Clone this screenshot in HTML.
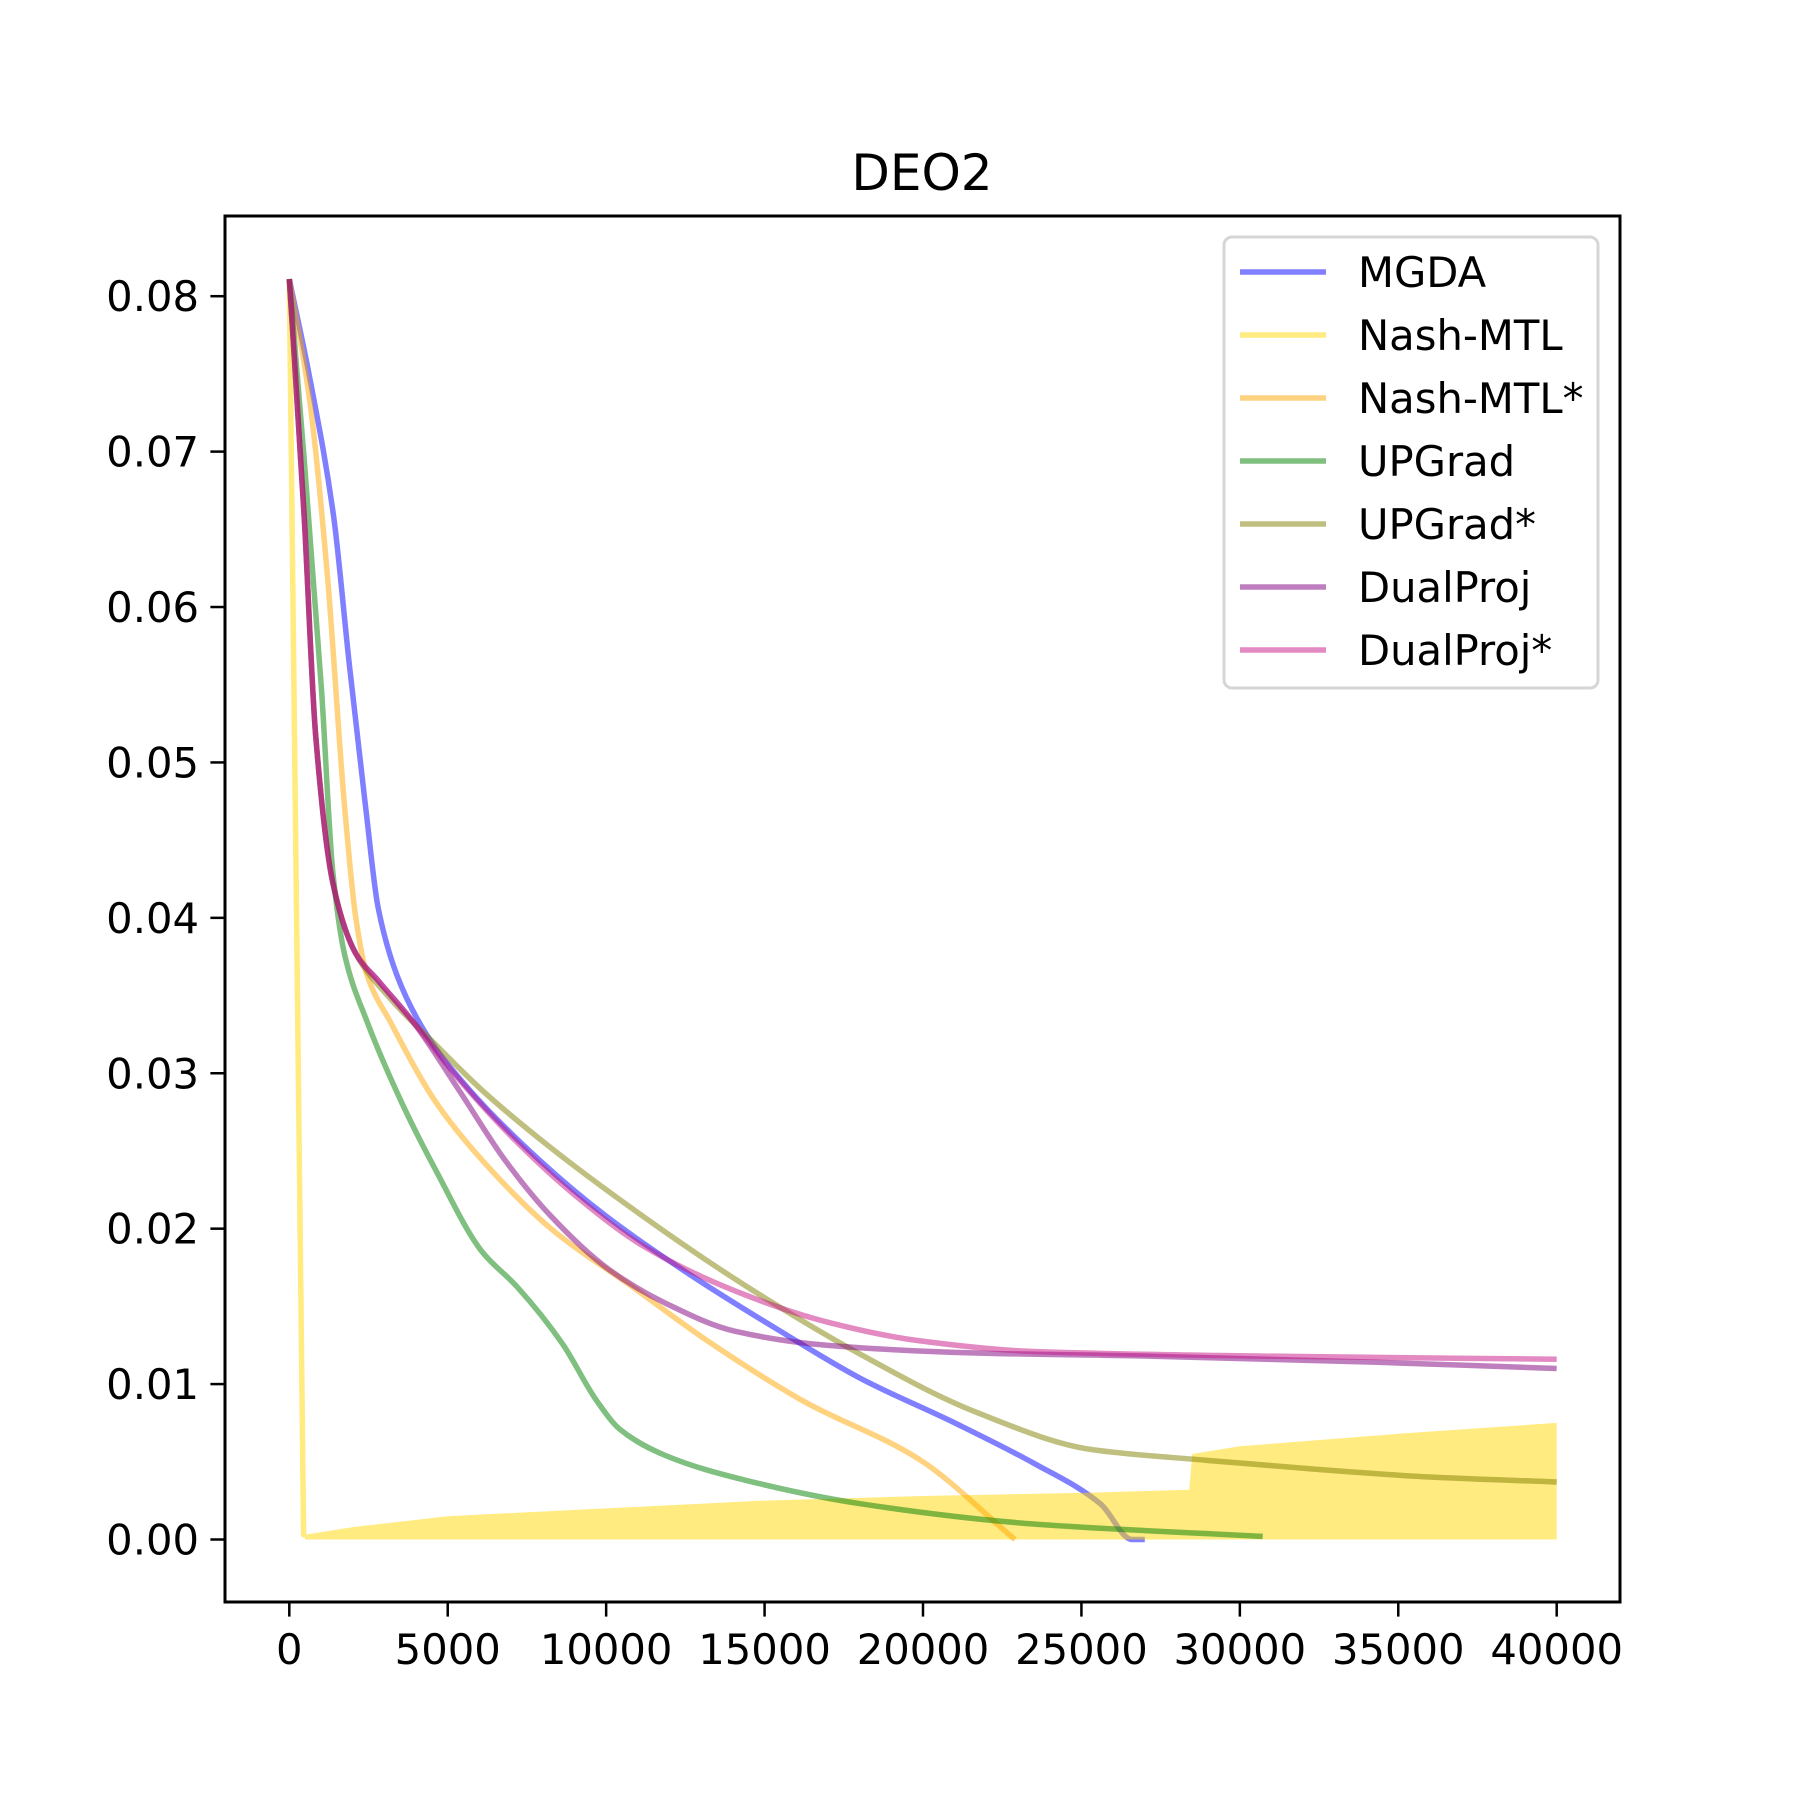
<!DOCTYPE html>
<html><head><meta charset="utf-8"><style>
html,body{margin:0;padding:0;background:#fff}
svg{display:block;font-family:"DejaVu Sans","Liberation Sans",sans-serif}
</style></head><body>
<svg id="chart" width="1800" height="1800" viewBox="0 0 1800 1800" xmlns="http://www.w3.org/2000/svg">
<rect width="1800" height="1800" fill="#fff"/>
<text x="922" y="190" font-size="50" text-anchor="middle">DEO2</text>
<g id="plot"></g>
<g id="axes"></g>
<g id="legend"></g>
</svg>
<script>
const xTicks=[0,5000,10000,15000,20000,25000,30000,35000,40000];
const yTicks=[0,0.01,0.02,0.03,0.04,0.05,0.06,0.07,0.08];
const yTickLabels=["0.00","0.01","0.02","0.03","0.04","0.05","0.06","0.07","0.08"];
const mgdaX=[0,650,1400,1900,2400,2800,3400,4300,5700,7900,10000,12600,15500,18000,21000,23500,25600,26600,27000];
const mgdaY=[0.0811,0.0747,0.0658,0.0562,0.0473,0.0407,0.0363,0.0326,0.0289,0.0244,0.0208,0.0171,0.0134,0.0104,0.0075,0.0049,0.0023,0.0,0.0];
const nashX=[0,450,500];
const nashY=[0.0811,0.0003,0.0003];
const nashBandX=[500,2000,5000,10000,15000,20000,25000,28400,28500,30000,35000,40000];
const nashBandTop=[0.0003,0.0008,0.0015,0.0020,0.0025,0.0028,0.0030,0.0032,0.0055,0.0060,0.0068,0.0075];
const nashStarX=[0,650,1200,1740,2100,2460,3190,4640,6090,8260,10800,13330,16230,19850,22900];
const nashStarY=[0.0811,0.0732,0.0621,0.0473,0.0400,0.0363,0.0333,0.0281,0.0244,0.0200,0.0163,0.0126,0.0089,0.0052,0.0];
const upX=[0,470,1015,1377,1740,2460,3550,4640,6090,7170,8620,9710,10430,11880,14420,18040,23480,30720];
const upY=[0.0811,0.0695,0.0547,0.0429,0.0377,0.0333,0.0281,0.0237,0.0185,0.0163,0.0126,0.0089,0.0071,0.0054,0.0038,0.0023,0.0010,0.0002];
const upStarX=[0,470,830,1380,2100,3190,4640,6090,8260,11160,14420,18040,21670,25290,28910,32540,36160,40000];
const upStarY=[0.0811,0.0658,0.0518,0.0422,0.0377,0.0348,0.0318,0.0289,0.0252,0.0208,0.0163,0.0119,0.0082,0.0058,0.0051,0.0045,0.0040,0.0037];
const dpX=[0,470,830,1380,2100,2830,3910,5360,6810,8260,10070,11880,14060,16960,21670,27100,34350,40000];
const dpY=[0.0811,0.0658,0.0518,0.0422,0.0377,0.0359,0.0333,0.0289,0.0244,0.0208,0.0174,0.0152,0.0134,0.0125,0.0120,0.0118,0.0114,0.0110];
const dpStarX=[0,470,830,1380,2100,2830,3910,5360,7170,8990,11160,14060,16960,19850,23480,30720,40000];
const dpStarY=[0.0811,0.0658,0.0518,0.0422,0.0377,0.0359,0.0333,0.0296,0.0256,0.0222,0.0189,0.0160,0.0140,0.0128,0.0121,0.0118,0.0116];

const L=225,R=1620,T=216,B=1602;
function sx(v){return 289.3+(v-0)*(1556.7-289.3)/40000;}
function sy(v){return 1539.5-v*(1539.5-296.2)/0.08;}
const NS="http://www.w3.org/2000/svg";
const plot=document.getElementById('plot'),axes=document.getElementById('axes'),leg=document.getElementById('legend');
function mk(tag,attrs,parent){const e=document.createElementNS(NS,tag);for(const k in attrs)e.setAttribute(k,attrs[k]);parent.appendChild(e);return e;}

const defs=mk('defs',{},plot);
const cp=mk('clipPath',{id:'clip'},defs);
mk('rect',{x:L,y:T,width:R-L,height:B-T},cp);
const g=mk('g',{'clip-path':'url(#clip)'},plot);

// monotone cubic (Fritsch-Carlson) in pixel space
function smoothPath(xs,ys){
  const px=xs.map(sx),py=ys.map(sy),n=px.length;
  const dl=[],m=new Array(n);
  for(let i=0;i<n-1;i++)dl.push((py[i+1]-py[i])/(px[i+1]-px[i]));
  m[0]=dl[0];m[n-1]=dl[n-2];
  for(let i=1;i<n-1;i++){
    if(dl[i-1]*dl[i]<=0)m[i]=0;
    else{const w1=2*(px[i+1]-px[i])+(px[i]-px[i-1]),w2=(px[i+1]-px[i])+2*(px[i]-px[i-1]);m[i]=(w1+w2)/(w1/dl[i-1]+w2/dl[i]);}
  }
  let d='M'+px[0].toFixed(1)+','+py[0].toFixed(1);
  for(let i=0;i<n-1;i++){
    const h=(px[i+1]-px[i])/3;
    d+=' C'+(px[i]+h).toFixed(1)+','+(py[i]+m[i]*h).toFixed(1)+' '+(px[i+1]-h).toFixed(1)+','+(py[i+1]-m[i+1]*h).toFixed(1)+' '+px[i+1].toFixed(1)+','+py[i+1].toFixed(1);
  }
  return d;
}
function line(xs,ys,color,name,smooth){
  const d=smooth?smoothPath(xs,ys):xs.map((x,i)=>(i?'L':'M')+sx(x).toFixed(1)+','+sy(ys[i]).toFixed(1)).join(' ');
  const p=mk('path',{d:d,fill:'none',stroke:color,'stroke-opacity':0.5,'stroke-width':5.5,'stroke-linejoin':'round','stroke-linecap':'butt'},g);
  
  
}
line(mgdaX,mgdaY,'#0000ff','mgda-line',true);
let d='M'+sx(nashBandX[0])+','+sy(0);
nashBandX.forEach((x,i)=>{d+=' L'+sx(x).toFixed(1)+','+sy(nashBandTop[i]).toFixed(1);});
d+=' L'+sx(nashBandX[nashBandX.length-1])+','+sy(0)+' Z';
const band=mk('path',{d:d,fill:'#ffd700','fill-opacity':0.5,stroke:'none'},g);


line(nashX,nashY,'#ffd700','nash-mtl-line',false);
line(nashStarX,nashStarY,'#ffa500','nash-mtl-star-line',true);
line(upX,upY,'#008000','upgrad-line',true);
line(upStarX,upStarY,'#808000','upgrad-star-line',true);
line(dpX,dpY,'#800080','dualproj-line',true);
line(dpStarX,dpStarY,'#c71585','dualproj-star-line',true);

const fr=mk('rect',{x:L,y:T,width:R-L,height:B-T,fill:'none',stroke:'#000','stroke-width':3},axes);


xTicks.forEach(v=>{
  const x=sx(v);
  const t=mk('line',{x1:x,x2:x,y1:B,y2:B+14.6,stroke:'#000','stroke-width':2.5},axes);
  
  
  const tx=mk('text',{x:x,y:B+62,'font-size':41.7,'text-anchor':'middle'},axes);
  tx.textContent=String(v);
  
  
});
yTicks.forEach((v,i)=>{
  const y=sy(v);
  const t=mk('line',{x1:L-14.6,x2:L,y1:y,y2:y,stroke:'#000','stroke-width':2.5},axes);
  
  
  const tx=mk('text',{x:L-26,y:y+15,'font-size':41.7,'text-anchor':'end'},axes);
  tx.textContent=yTickLabels[i];
  
  
});

const lb=mk('rect',{x:1224,y:237,width:374,height:451,rx:8,fill:'#fff','fill-opacity':0.8,stroke:'#d6d6d6','stroke-width':3},leg);


const names=['MGDA','Nash-MTL','Nash-MTL*','UPGrad','UPGrad*','DualProj','DualProj*'];
const cols=['#0000ff','#ffd700','#ffa500','#008000','#808000','#800080','#c71585'];
names.forEach((n,i)=>{
  const y=272+i*63;
  const e=mk('g',{},leg);
  
  
  mk('line',{x1:1240,x2:1326,y1:y,y2:y,stroke:cols[i],'stroke-opacity':0.5,'stroke-width':5.5},e);
  const t=mk('text',{x:1358,y:y+15,'font-size':41.7},e);
  t.textContent=n;
});
</script>
</body></html>
